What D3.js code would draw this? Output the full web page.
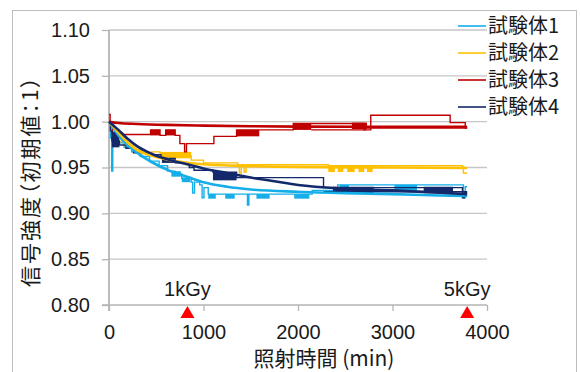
<!DOCTYPE html>
<html>
<head>
<meta charset="utf-8">
<script src="https://cdn.jsdelivr.net/npm/d3@7"></script>
<style>
body { margin: 0; background: #fff; }
text { font-family: "Liberation Sans", Arial, sans-serif; fill: #1a1a1a; }
.jp { font-family: "Noto Sans CJK JP", sans-serif; font-feature-settings: "palt"; }
</style>
</head>
<body>
<svg id="chart"></svg>
<script>
// Global data
var names = ["試験体1", "試験体2", "試験体3", "試験体4"];
var xTicks = [0, 1000, 2000, 3000, 4000];
var yTicks = [0.80, 0.85, 0.90, 0.95, 1.00, 1.05, 1.10];
var doseMarks = [830, 3790];
var doseLabels = ["1kGy", "5kGy"];

// measured signal (step lines) [min, value]
var s1Steps = [[0,1.000],[15,0.982],[28,0.946],[40,0.982],[90,0.977],[160,0.972],[240,0.967],[330,0.962],[430,0.957],[530,0.952],[620,0.946],[700,0.943],[770,0.938],[870,0.934],[885,0.922],[905,0.934],[960,0.931],[985,0.917],[1005,0.928],[1050,0.921],[1450,0.921],[1465,0.909],[1480,0.921],[2150,0.925],[2420,0.931],[3750,0.917],[3770,0.929],[3790,0.929]];
var s2Steps = [[0,1.000],[20,0.990],[40,0.982],[90,0.978],[160,0.974],[260,0.969],[350,0.966],[450,0.967],[540,0.963],[870,0.958],[1000,0.955],[1360,0.953],[1380,0.944],[1400,0.953],[1430,0.945],[1450,0.953],[2320,0.952],[3740,0.951],[3750,0.944],[3790,0.944]];
var s3Steps = [[0,1.008],[12,1.000],[35,0.986],[440,0.991],[540,0.985],[600,0.991],[700,0.985],[750,0.976],[800,0.967],[820,0.976],[1100,0.976],[1110,0.984],[1350,0.991],[1950,0.998],[2620,0.998],[2700,0.991],[2770,1.007],[3590,1.007],[3610,0.999],[3760,0.999],[3770,0.993],[3790,0.993]];
var s3Steps2 = [[2140,0.991],[2700,0.991],[2710,0.993],[3790,0.993]];
var s4Steps = [[0,1.000],[15,0.990],[30,0.979],[110,0.9745],[180,0.971],[260,0.966],[420,0.964],[550,0.960],[700,0.955],[850,0.950],[900,0.947],[1100,0.945],[1350,0.939],[2265,0.939],[2270,0.928],[3740,0.917],[3760,0.923],[3790,0.923]];
var s4Steps2 = [[2270,0.9236],[3790,0.9236]];

// dense jitter regions [from, to, low, high]
var s1Blocks = [[660,760,0.940,0.946],[770,860,0.934,0.939],[1050,1130,0.916,0.921],[1230,1330,0.916,0.921],[1560,1700,0.916,0.921],[1960,2120,0.916,0.921],[2440,2540,0.926,0.931],[3020,3260,0.925,0.931]];
var s2Blocks = [[540,870,0.960,0.967],[2320,2390,0.945,0.952],[2420,2480,0.945,0.952],[2520,2600,0.945,0.952],[2640,2700,0.945,0.952],[2730,2790,0.945,0.952]];
var s3Blocks = [[440,540,0.985,0.991],[600,700,0.985,0.991],[1350,1590,0.984,0.991],[1950,2140,0.991,0.998],[2570,2730,0.992,0.999]];
var s4Blocks = [[30,110,0.972,0.989],[560,700,0.955,0.960],[1100,1350,0.936,0.945],[2370,2800,0.922,0.929],[3330,3640,0.922,0.929]];

// approximation curves
var fit1 = [[0,1.0],[100,0.985],[200,0.974],[300,0.966],[450,0.956],[650,0.946],[850,0.939],[1000,0.934],[1250,0.929],[1500,0.926],[2000,0.9235],[2500,0.922],[3000,0.921],[3500,0.9195],[3790,0.919]];
var fit2 = [[0,1.0],[100,0.988],[200,0.977],[300,0.969],[450,0.963],[650,0.958],[850,0.955],[1000,0.9535],[1500,0.9515],[2000,0.9505],[3000,0.950],[3790,0.9495]];
var fit3 = [[0,1.0],[100,0.9985],[300,0.9975],[600,0.9965],[1000,0.9957],[1500,0.995],[2000,0.9946],[3000,0.9945],[3790,0.9944]];
var fit4 = [[0,1.0],[100,0.991],[200,0.981],[300,0.973],[450,0.965],[650,0.958],[850,0.953],[1000,0.949],[1250,0.944],[1500,0.939],[1750,0.935],[2000,0.931],[2500,0.927],[3000,0.925],[3500,0.9225],[3790,0.921]];

var colors = ["#15aee9", "#ffc000", "#c00000", "#13296b"];

var series = [
    {steps: [s1Steps], blocks: s1Blocks, fit: fit1},
    {steps: [s2Steps], blocks: s2Blocks, fit: fit2},
    {steps: [s3Steps, s3Steps2], blocks: s3Blocks, fit: fit3},
    {steps: [s4Steps, s4Steps2], blocks: s4Blocks, fit: fit4}
];

var width = 580, height = 372;

var svg = d3.select("#chart")
    .attr("width", width)
    .attr("height", height);

// chart frame
svg.append("rect")
    .attr("x", 12.5).attr("y", 10.5)
    .attr("width", 564).attr("height", 380)
    .attr("fill", "none")
    .attr("stroke", "#bdbdbd");

var x = d3.scaleLinear().domain([0, 4000]).range([109, 487]);
var y = d3.scaleLinear().domain([0.80, 1.10]).range([305, 30]);

// horizontal gridlines
svg.append("g").selectAll("line")
    .data(yTicks.slice(1))
    .enter().append("line")
    .attr("x1", x(0)).attr("x2", x(4000))
    .attr("y1", d => y(d)).attr("y2", d => y(d))
    .attr("stroke", "#c6c6c6")
    .attr("stroke-width", 1.3);

// Y axis
var yAxis = d3.axisLeft(y).tickValues(yTicks).tickSize(7).tickPadding(12).tickFormat(d3.format(".2f"));
var gy = svg.append("g").attr("transform", "translate(" + x(0) + ",0)").call(yAxis);
gy.select(".domain").remove();
gy.selectAll(".tick line").attr("stroke", "#b5b5b5").attr("stroke-width", 1.3);
gy.selectAll(".tick text").attr("font-size", 20).attr("font-family", "Liberation Sans, Arial, sans-serif").attr("fill", "#1a1a1a");

// X axis
var xAxis = d3.axisBottom(x).tickValues(xTicks).tickSize(6).tickPadding(14).tickFormat(d3.format("d"));
var gx = svg.append("g").attr("transform", "translate(0," + y(0.80) + ")").call(xAxis);
gx.select(".domain").remove();
gx.selectAll(".tick line").attr("stroke", "#b5b5b5").attr("stroke-width", 1.3);
gx.selectAll(".tick text").attr("font-size", 20).attr("font-family", "Liberation Sans, Arial, sans-serif").attr("fill", "#1a1a1a");

svg.append("line")
    .attr("x1", x(0) - 7).attr("x2", x(4000))
    .attr("y1", y(0.80)).attr("y2", y(0.80))
    .attr("stroke", "#b5b5b5").attr("stroke-width", 1.5);
svg.append("line")
    .attr("x1", x(0)).attr("x2", x(0))
    .attr("y1", y(1.10)).attr("y2", y(0.80) + 6)
    .attr("stroke", "#b5b5b5").attr("stroke-width", 1.8);

var stepLine = d3.line().curve(d3.curveStepAfter).x(d => x(d[0])).y(d => y(d[1]));
var fitLine = d3.line().curve(d3.curveMonotoneX).x(d => x(d[0])).y(d => y(d[1]));

var plot = svg.append("g").attr("class", "plot");

// measured data
series.forEach(function(s, i){
    var g = plot.append("g");
    g.selectAll("rect")
        .data(s.blocks)
        .enter().append("rect")
        .attr("x", d => x(d[0]))
        .attr("y", d => y(d[3]))
        .attr("width", d => x(d[1]) - x(d[0]))
        .attr("height", d => y(d[2]) - y(d[3]))
        .attr("fill", colors[i]);
    s.steps.forEach(function(st){
        g.append("path")
            .attr("d", stepLine(st))
            .attr("fill", "none")
            .attr("stroke", colors[i])
            .attr("stroke-width", 1.4);
    });
});

// fitted curves
series.forEach(function(s, i){
    plot.append("path")
        .attr("d", fitLine(s.fit))
        .attr("fill", "none")
        .attr("stroke", colors[i])
        .attr("stroke-width", 2.6);
});

// dose markers
var marks = svg.selectAll(".dose")
    .data(doseMarks)
    .enter().append("g")
    .attr("class", "dose");

marks.append("path")
    .attr("d", d => "M" + (x(d) - 7) + "," + (y(0.80) + 13) + "L" + (x(d) + 7) + "," + (y(0.80) + 13) + "L" + x(d) + "," + (y(0.80) + 1) + "Z")
    .attr("fill", "#ff0000");

marks.append("text")
    .attr("x", d => x(d))
    .attr("y", y(0.80) - 9)
    .attr("text-anchor", "middle")
    .attr("font-size", 20)
    .text((d, i) => doseLabels[i]);

// Legend
var legend = svg.selectAll(".legend")
    .data(names)
    .enter().append("g")
    .attr("class", "legend")
    .attr("transform", (d, i) => "translate(458," + (26 + i * 27) + ")");

legend.append("line")
    .attr("x1", 0).attr("x2", 28)
    .attr("stroke", (d, i) => colors[i])
    .attr("stroke-width", 1.6);

legend.append("text")
    .attr("class", "jp")
    .attr("x", 30)
    .attr("dy", "0.36em")
    .attr("font-size", 20)
    .text(d => d);

// axis titles
svg.append("text")
    .attr("class", "jp")
    .attr("x", 324)
    .attr("y", 366)
    .attr("text-anchor", "middle")
    .attr("font-size", 21)
    .text("照射時間 (min)");

svg.append("text")
    .attr("class", "jp")
    .attr("transform", "translate(31,181) rotate(-90)")
    .attr("text-anchor", "middle")
    .attr("dy", "0.35em")
    .attr("font-size", 21)
    .attr("letter-spacing", 2)
    .text("信号強度（初期値：1）");
</script>
</body>
</html>
